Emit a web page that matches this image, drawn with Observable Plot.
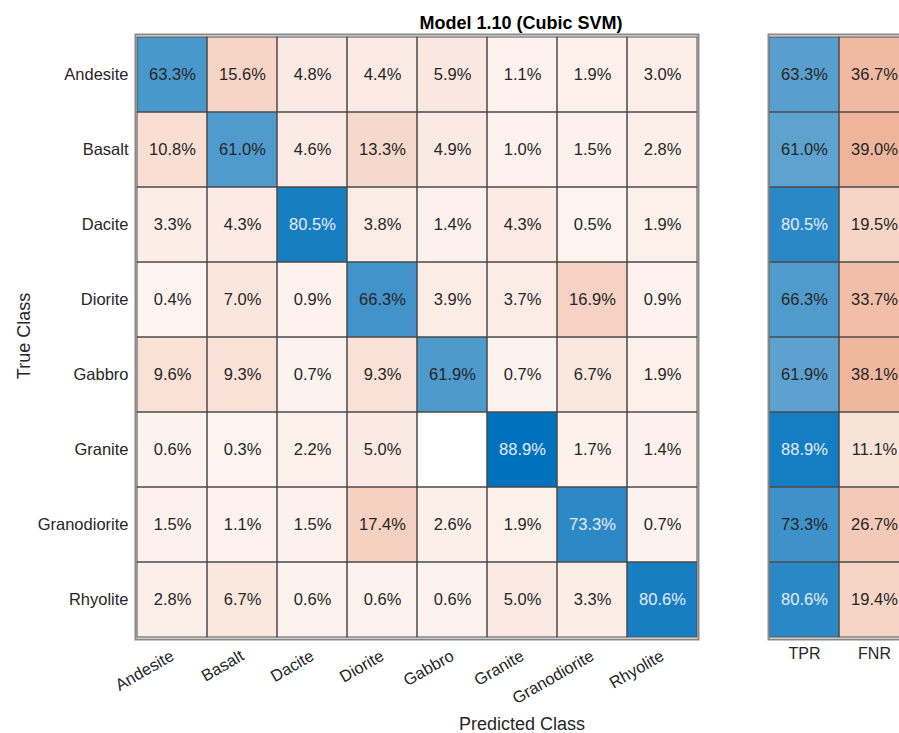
<!DOCTYPE html>
<html><head><meta charset="utf-8">
<script src="https://cdn.jsdelivr.net/npm/d3@7"></script>
<script src="https://cdn.jsdelivr.net/npm/@observablehq/plot@0.6"></script>
<style>
body{margin:0;background:#fff;font-family:"Liberation Sans",Arial,sans-serif;}
#wrap{position:relative;width:899px;height:733px;overflow:hidden;background:#fff;}
#wrap svg{position:absolute;left:0;top:0;}
.lbl{position:absolute;white-space:nowrap;color:#262626;line-height:1;}
</style></head><body><div id="wrap"></div>
<script>
// ---- data ----
const classes = ["Andesite","Basalt","Dacite","Diorite","Gabbro","Granite","Granodiorite","Rhyolite"];
const rowAndesite     = [63.3, 15.6, 4.8, 4.4, 5.9, 1.1, 1.9, 3.0];
const rowBasalt       = [10.8, 61.0, 4.6, 13.3, 4.9, 1.0, 1.5, 2.8];
const rowDacite       = [3.3, 4.3, 80.5, 3.8, 1.4, 4.3, 0.5, 1.9];
const rowDiorite      = [0.4, 7.0, 0.9, 66.3, 3.9, 3.7, 16.9, 0.9];
const rowGabbro       = [9.6, 9.3, 0.7, 9.3, 61.9, 0.7, 6.7, 1.9];
const rowGranite      = [0.6, 0.3, 2.2, 5.0, null, 88.9, 1.7, 1.4];
const rowGranodiorite = [1.5, 1.1, 1.5, 17.4, 2.6, 1.9, 73.3, 0.7];
const rowRhyolite     = [2.8, 6.7, 0.6, 0.6, 0.6, 5.0, 3.3, 80.6];
const tpr = [63.3, 61.0, 80.5, 66.3, 61.9, 88.9, 73.3, 80.6];
const fnr = [36.7, 39.0, 19.5, 33.7, 38.1, 11.1, 26.7, 19.4];
const rateLabels = ["TPR","FNR"];
const titleText = "Model 1.10 (Cubic SVM)";
const xLabelText = "Predicted Class";
const yLabelText = "True Class";

// ---- build tables ----
const rows = [rowAndesite,rowBasalt,rowDacite,rowDiorite,rowGabbro,rowGranite,rowGranodiorite,rowRhyolite];
const cells = [];
rows.forEach((r,i)=>r.forEach((v,j)=>cells.push({trueC:classes[i], predC:classes[j], value:v, diag:i===j, signed: v==null?null:(i===j? v : -v)})));
const rates = [];
classes.forEach((c,i)=>{
  rates.push({cls:c, rate:"TPR", value:tpr[i], signed:tpr[i]});
  rates.push({cls:c, rate:"FNR", value:fnr[i], signed:-fnr[i]});
});
const fmt = d => d.value.toFixed(1) + "%";

const W = 899, H = 733;
const FONT = '"Liberation Sans", Arial, sans-serif';
const DARK = "#262626", LIGHT = "#e4edf8";
const GRID = "#4a4a4a", FRAME = "#8a8a8a";

const mat = Plot.plot({
  width: W, height: H,
  marginTop: 34, marginBottom: H - 639, marginLeft: 135, marginRight: W - 698,
  style: {fontFamily: FONT, fontSize: "16.5px", color: DARK, background: "transparent"},
  x: {domain: classes, padding: 0, tickSize: 0, tickPadding: 15, tickRotate: -30, label: null},
  y: {domain: classes, padding: 0, tickSize: 0, tickPadding: 7, label: null},
  color: {type: "linear", domain: [-80, 0, 89], range: ["#D95319", "#fdf4f0", "#0072BD"], interpolate: "rgb"},
  marks: [
    Plot.cell(cells.filter(d => d.value != null), {x: "predC", y: "trueC", fill: "signed"}),
    Plot.cell(cells, {x: "predC", y: "trueC", fill: "none", stroke: GRID, strokeWidth: 1}),
    Plot.frame({stroke: FRAME, strokeWidth: 2}),
    Plot.text(cells.filter(d => d.value != null && !(d.diag && d.value > 70)), {x: "predC", y: "trueC", text: fmt, fill: DARK, fontSize: 16.5}),
    Plot.text(cells.filter(d => d.value != null && d.diag && d.value > 70), {x: "predC", y: "trueC", text: fmt, fill: LIGHT, fontSize: 16.5})
  ]
});

const side = Plot.plot({
  width: W, height: H,
  marginTop: 34, marginBottom: H - 639, marginLeft: 768, marginRight: W - 909,
  style: {fontFamily: FONT, fontSize: "16px", color: DARK, background: "transparent"},
  x: {domain: rateLabels, padding: 0, tickSize: 0, tickPadding: 8, label: null},
  y: {domain: classes, padding: 0, axis: null},
  color: {type: "linear", domain: [-100, 0, 97], range: ["#D95319", "#fdf4f0", "#0072BD"], interpolate: "rgb"},
  marks: [
    Plot.cell(rates, {x: "rate", y: "cls", fill: "signed"}),
    Plot.cell(rates, {x: "rate", y: "cls", fill: "none", stroke: GRID, strokeWidth: 1}),
    Plot.frame({stroke: FRAME, strokeWidth: 2}),
    Plot.text(rates.filter(d => !(d.rate === "TPR" && d.value > 75)), {x: "rate", y: "cls", text: fmt, fill: DARK, fontSize: 16.5}),
    Plot.text(rates.filter(d => d.rate === "TPR" && d.value > 75), {x: "rate", y: "cls", text: fmt, fill: LIGHT, fontSize: 16.5})
  ]
});

const wrap = document.getElementById("wrap");
wrap.appendChild(mat);
wrap.appendChild(side);

function label(text, css) {
  const d = document.createElement("div");
  d.className = "lbl";
  d.textContent = text;
  Object.assign(d.style, css);
  wrap.appendChild(d);
  return d;
}
label(titleText, {left: "521px", top: "14px", transform: "translateX(-50%)", fontWeight: "bold", fontSize: "18px", color: "#000"});
label(xLabelText, {left: "522px", top: "715px", transform: "translateX(-50%)", fontSize: "18px"});
label(yLabelText, {left: "24px", top: "336px", transform: "translate(-50%,-50%) rotate(-90deg)", fontSize: "18px"});
</script>
</body></html>
